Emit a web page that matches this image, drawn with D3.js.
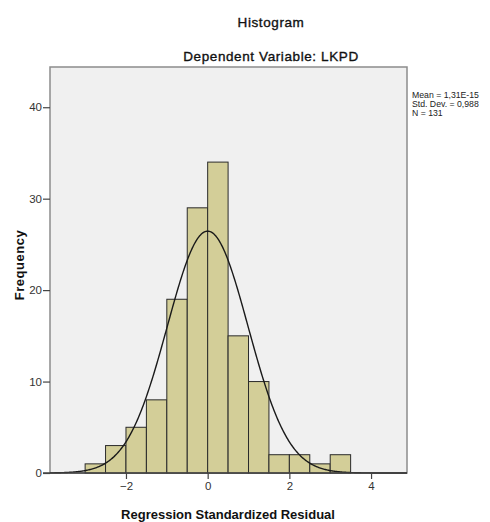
<!DOCTYPE html>
<html><head><meta charset="utf-8">
<script src="https://cdn.jsdelivr.net/npm/d3@7"></script>
<style>body{margin:0;background:#fff}svg{display:block}</style>
</head><body>
<svg id="c" width="490" height="522"></svg>
<script>
const binStarts = [-3, -2.5, -2, -1.5, -1, -0.5, 0, 0.5, 1, 1.5, 2, 2.5, 3];
const counts = [1, 3, 5, 8, 19, 29, 34, 15, 10, 2, 2, 1, 2];
const binWidth = 0.5;
const xTicks = [-2, 0, 2, 4];
const yTicks = [0, 10, 20, 30, 40];
const statLines = ["Mean = 1,31E-15", "Std. Dev. = 0,988", "N = 131"];
const meanVal = 1.31e-15, sdVal = 0.988, nVal = 131;

const svg = d3.select("#c");
const L = 50, R = 407, T = 67, B = 473;
const x = d3.scaleLinear().domain([-3.86, 4.88]).range([L, R]);
const y = d3.scaleLinear().domain([0, 44.4]).range([B, T]);

svg.append("rect").attr("x", L).attr("y", T).attr("width", R - L).attr("height", B - T)
  .attr("fill", "#f0f0f0").attr("stroke", "#8c8c8c").attr("stroke-width", 1.5);

svg.append("g").selectAll("rect").data(counts).join("rect")
  .attr("x", (d, i) => x(binStarts[i]))
  .attr("y", d => y(d))
  .attr("width", (d, i) => x(binStarts[i] + binWidth) - x(binStarts[i]))
  .attr("height", d => y(0) - y(d))
  .attr("fill", "#d3ce98").attr("stroke", "#2a2a2a").attr("stroke-width", 1);

// fitted normal curve from the stated Mean, Std. Dev. and N
const xs = d3.range(x.domain()[0], x.domain()[1] + 0.001, 0.02);
const pdf = v => nVal * binWidth * Math.exp(-0.5 * Math.pow((v - meanVal) / sdVal, 2)) / (sdVal * Math.sqrt(2 * Math.PI));
svg.append("path").datum(xs)
  .attr("d", d3.line().x(v => x(v)).y(v => y(pdf(v))))
  .attr("fill", "none").attr("stroke", "#1a1a1a").attr("stroke-width", 1.4);

const tickFont = "Liberation Sans Narrow, Arial Narrow, sans-serif";
const xAxis = svg.append("g").attr("transform", `translate(0,${B})`)
  .call(d3.axisBottom(x).tickValues(xTicks).tickSize(6).tickPadding(3).tickSizeOuter(0).tickFormat(d3.format("d")));
const yAxis = svg.append("g").attr("transform", `translate(${L},0)`)
  .call(d3.axisLeft(y).tickValues(yTicks).tickSize(7).tickPadding(1).tickSizeOuter(0).tickFormat(d3.format("d")));
[xAxis, yAxis].forEach(g => {
  g.select(".domain").attr("stroke", "#444").attr("stroke-width", 1.5);
  g.selectAll(".tick line").attr("stroke", "#444").attr("stroke-width", 1.2);
  g.selectAll(".tick text").attr("fill", "#333").style("font-family", tickFont).style("font-size", "11.5px");
});
xAxis.select(".domain").attr("d", `M${L - 7},0H${R}`);
yAxis.select(".domain").remove();

const ff = "Liberation Sans, Arial, sans-serif";
[["Histogram", 27], ["Dependent Variable: LKPD", 61]].forEach(([t, yy]) => {
  svg.append("text").attr("x", 271).attr("y", yy).attr("text-anchor", "middle")
    .style("font-family", ff).style("font-size", "13.5px").style("letter-spacing", "0.6px")
    .attr("fill", "#111").attr("stroke", "#111").attr("stroke-width", 0.35).text(t);
});
svg.append("text").attr("x", 228).attr("y", 519).attr("text-anchor", "middle")
  .style("font-family", ff).style("font-size", "13px").style("font-weight", "bold").attr("fill", "#111").text("Regression Standardized Residual");
svg.append("text").attr("transform", "translate(23.5,265) rotate(-90)").attr("text-anchor", "middle")
  .style("font-family", ff).style("font-size", "13px").style("font-weight", "bold").style("letter-spacing", "0.5px").attr("fill", "#111").text("Frequency");

const stats = svg.append("text").attr("x", 412).attr("y", 98)
  .style("font-family", ff).style("font-size", "8.7px").attr("fill", "#222");
stats.selectAll("tspan").data(statLines).join("tspan")
  .attr("x", 412).attr("dy", (d, i) => i === 0 ? 0 : 9)
  .text(d => d);
</script>
</body></html>
